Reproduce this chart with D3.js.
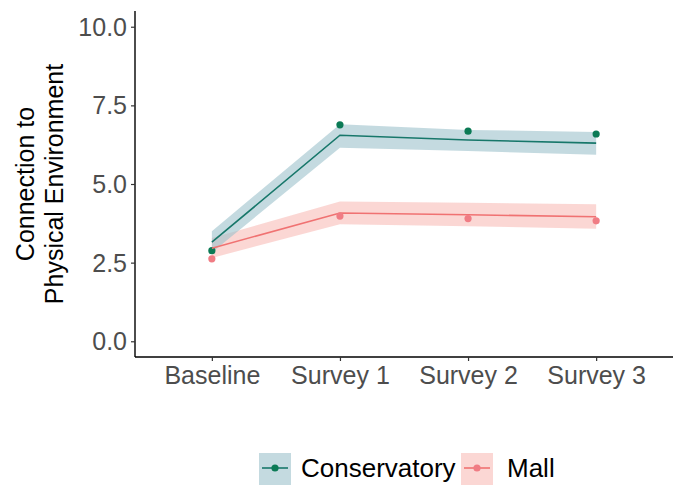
<!DOCTYPE html>
<html><head><meta charset="utf-8">
<script src="https://cdn.jsdelivr.net/npm/d3@7"></script>
<style>body{margin:0;background:#fff}svg{display:block}text{font-family:"Liberation Sans",Arial,sans-serif}</style>
</head><body>
<svg id="c" width="683" height="485"></svg>
<script>
const categories = ["Baseline","Survey 1","Survey 2","Survey 3"];
const groups = ["Conservatory","Mall"];
const consPoints = [2.88, 6.88, 6.68, 6.59];
const consFit = [3.15, 6.55, 6.40, 6.30];
const consLo = [2.82, 6.15, 6.05, 5.93];
const consHi = [3.50, 6.90, 6.72, 6.65];
const mallPoints = [2.62, 3.98, 3.90, 3.83];
const mallFit = [2.96, 4.08, 4.02, 3.96];
const mallLo = [2.65, 3.72, 3.66, 3.58];
const mallHi = [3.28, 4.44, 4.40, 4.36];
const yTicks = [0, 2.5, 5, 7.5, 10];

const svg = d3.select("#c");
const L = 135, R = 673, T = 11, B = 357;
const x = d3.scalePoint().domain(categories).range([L, R]).padding(0.6);
const y = d3.scaleLinear().domain([-0.5, 10.5]).range([B, T]);

const series = [
  {name:"Conservatory", pts:consPoints, fit:consFit, lo:consLo, hi:consHi, line:"#17776a", pt:"#0b7a55", band:"#9cc2cb"},
  {name:"Mall", pts:mallPoints, fit:mallFit, lo:mallLo, hi:mallHi, line:"#f07272", pt:"#f07c84", band:"#f9bcb8"}
];

const area = d3.area().x((d,i)=>x(categories[i])).y0(d=>y(d[0])).y1(d=>y(d[1]));
const line = d3.line().x((d,i)=>x(categories[i])).y(d=>y(d));

series.slice().reverse().forEach(s=>{
  svg.append("path").attr("d", area(s.lo.map((v,i)=>[v,s.hi[i]])))
    .attr("fill", s.band).attr("opacity",0.6);
});
series.forEach(s=>{
  svg.append("path").attr("d", line(s.fit)).attr("fill","none").attr("stroke",s.line).attr("stroke-width",1.6);
  svg.selectAll(null).data(s.pts).enter().append("circle")
    .attr("cx",(d,i)=>x(categories[i])).attr("cy",d=>y(d)).attr("r",3.6).attr("fill",s.pt);
});

// axes
const ya = svg.append("g").attr("transform",`translate(${L},0)`)
  .call(d3.axisLeft(y).tickValues(yTicks).tickFormat(d3.format(".1f")).tickSize(4).tickSizeOuter(0));
const xa = svg.append("g").attr("transform",`translate(0,${B})`)
  .call(d3.axisBottom(x).tickSize(4).tickSizeOuter(0));
[ya,xa].forEach(g=>{
  g.select(".domain").attr("stroke","#000").attr("stroke-width",1.4);
  g.selectAll(".tick line").attr("stroke","#333").attr("stroke-width",1.2);
  g.selectAll(".tick text").attr("fill","#4d4d4d").style("font-size","25px");
});
ya.selectAll(".tick text").attr("x",-8).attr("dy","0.34em");
xa.selectAll(".tick text").attr("y",9);
xa.select(".domain").attr("d",`M${L},0H${R}`);
ya.select(".domain").attr("d",`M0,${T}V${B}`);

// y title
const yt = svg.append("text").attr("transform","translate(0,184) rotate(-90)")
  .attr("text-anchor","middle").style("font-size","25px").attr("fill","#000");
yt.append("tspan").attr("x",0).attr("y",34).text("Connection to");
yt.append("tspan").attr("x",0).attr("y",63).text("Physical Environment");

// legend
const lg = svg.append("g");
const keys = [{s:series[0], kx:259, tx:301},{s:series[1], kx:461, tx:507}];
keys.forEach(k=>{
  lg.append("rect").attr("x",k.kx).attr("y",453).attr("width",32).attr("height",34).attr("fill",k.s.band).attr("opacity",0.6);
  lg.append("line").attr("x1",k.kx+3).attr("x2",k.kx+29).attr("y1",468).attr("y2",468).attr("stroke",k.s.line).attr("stroke-width",1.6);
  lg.append("circle").attr("cx",k.kx+16).attr("cy",468).attr("r",3.6).attr("fill",k.s.pt);
  lg.append("text").attr("x",k.tx).attr("y",477).style("font-size","26px").attr("fill","#000").text(k.s.name);
});
</script>
</body></html>
